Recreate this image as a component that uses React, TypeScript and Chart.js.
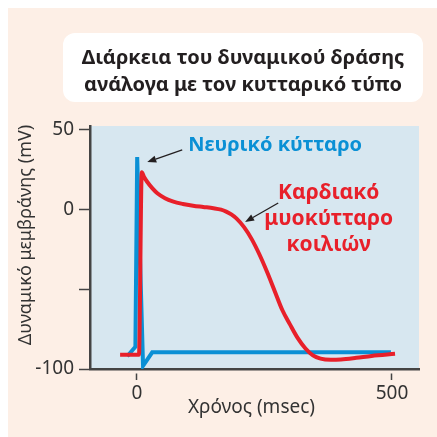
import React, { useEffect, useRef } from "react";
import { Chart, registerables } from "chart.js";

Chart.register(...registerables);

// ---- Text ----
const TITLE_LINES = ["Διάρκεια του δυναμικού δράσης", "ανάλογα με τον κυτταρικό τύπο"];
const X_TITLE = "Χρόνος (msec)";
const Y_TITLE = "Δυναμικό μεμβράνης (mV)";
const NEURON_LABEL = "Νευρικό κύτταρο";
const CARDIAC_LABEL = ["Καρδιακό", "μυοκύτταρο", "κοιλιών"];

// ---- Axes ----
const X_MIN = -92;
const X_MAX = 553;
const Y_MIN = -100;
const Y_MAX = 52.5;
const X_TICKS = [0, 500];
const X_TICK_LABELS = ["0", "500"];
const Y_TICKS = [-100, -50, 0, 50];
const Y_TICK_LABELS = ["-100", "", "0", "50"];

// ---- Series (time in msec, potential in mV) ----
const neuronTime = [-19, -3, 0.5, 12, 30, 498];
const neuronMV = [-92, -86, 33, -98, -89.5, -89.5];

const cardiacTime = [-33, 4, 9.5, 14, 20, 30, 40, 55, 70, 90, 110, 130, 150, 165, 175, 185, 195, 210, 225, 240, 255, 270, 285, 300, 315, 330, 345, 360, 380, 400, 430, 460, 506];
const cardiacMV = [-91, -91, 23.5, 20.5, 17.5, 13.5, 10.3, 7.2, 5.2, 3.6, 2.5, 1.7, 0.9, 0, -1.2, -3, -5.5, -11, -18.5, -28, -39, -51, -63, -72, -80.5, -87, -91.5, -93.5, -94.2, -94, -93, -91.8, -90.5];

// ---- Annotation anchors (data units) ----
const NEURON_TEXT_AT = [271, 36.8];
const NEURON_ARROW = [88.8, 37.5, 20.2, 29.9];
const CARDIAC_TEXT_X = 376;
const CARDIAC_TEXT_Y = [6.7, -9.6, -25.9];
const CARDIAC_ARROW = [277, 4.2, 212, -7.7];

const BLUE = "#0a90d5";
const RED = "#e8202a";
const DARK = "#231f20";
const FONT = "'Noto Sans', 'DejaVu Sans', sans-serif";

function drawArrow(ctx: CanvasRenderingContext2D, x1: number, y1: number, x2: number, y2: number) {
  const ang = Math.atan2(y2 - y1, x2 - x1);
  const hl = 9;
  const hw = 3.5;
  const bx = x2 - hl * Math.cos(ang);
  const by = y2 - hl * Math.sin(ang);
  ctx.beginPath();
  ctx.moveTo(x1, y1);
  ctx.lineTo(bx, by);
  ctx.stroke();
  ctx.beginPath();
  ctx.moveTo(x2, y2);
  ctx.lineTo(bx + hw * Math.sin(ang), by - hw * Math.cos(ang));
  ctx.lineTo(bx - hw * Math.sin(ang), by + hw * Math.cos(ang));
  ctx.closePath();
  ctx.fill();
}

const decor = {
  id: "decor",
  beforeDraw(chart: any) {
    const { ctx, chartArea: a } = chart;
    ctx.save();
    // title box
    ctx.fillStyle = "#ffffff";
    ctx.beginPath();
    ctx.roundRect(55, 25, 360, 69, 12);
    ctx.fill();
    ctx.fillStyle = DARK;
    ctx.font = `bold 20px ${FONT}`;
    ctx.textAlign = "center";
    ctx.textBaseline = "alphabetic";
    ctx.fillText(TITLE_LINES[0], 235, 56);
    ctx.fillText(TITLE_LINES[1], 235, 83);
    // plot background
    ctx.fillStyle = "#d7e7f0";
    ctx.fillRect(a.left, a.top, a.right - a.left, a.bottom - a.top);
    // axis titles
    ctx.fillStyle = "#333333";
    ctx.font = `19px ${FONT}`;
    ctx.fillText(X_TITLE, 243.5, 405);
    ctx.save();
    ctx.translate(23, 227);
    ctx.rotate(-Math.PI / 2);
    ctx.font = `18px ${FONT}`;
    ctx.fillText(Y_TITLE, 0, 0);
    ctx.restore();
    ctx.restore();
  },
  afterDraw(chart: any) {
    const { ctx } = chart;
    const xs = chart.scales.x;
    const ys = chart.scales.y;
    const px = (v: number) => xs.getPixelForValue(v);
    const py = (v: number) => ys.getPixelForValue(v);
    ctx.save();
    ctx.textAlign = "center";
    ctx.textBaseline = "alphabetic";
    ctx.fillStyle = BLUE;
    ctx.font = `bold 20px ${FONT}`;
    ctx.fillText(NEURON_LABEL, px(NEURON_TEXT_AT[0]), py(NEURON_TEXT_AT[1]));
    ctx.fillStyle = RED;
    ctx.font = `bold 21px ${FONT}`;
    CARDIAC_LABEL.forEach((t, i) => ctx.fillText(t, px(CARDIAC_TEXT_X), py(CARDIAC_TEXT_Y[i])));
    ctx.strokeStyle = DARK;
    ctx.fillStyle = DARK;
    ctx.lineWidth = 1.3;
    drawArrow(ctx, px(NEURON_ARROW[0]), py(NEURON_ARROW[1]), px(NEURON_ARROW[2]), py(NEURON_ARROW[3]));
    drawArrow(ctx, px(CARDIAC_ARROW[0]), py(CARDIAC_ARROW[1]), px(CARDIAC_ARROW[2]), py(CARDIAC_ARROW[3]));
    ctx.restore();
  },
};

export default function App() {
  const ref = useRef<HTMLCanvasElement>(null);
  useEffect(() => {
    const chart = new Chart(ref.current as HTMLCanvasElement, {
      type: "line",
      data: {
        datasets: [
          {
            label: "Καρδιακό μυοκύτταρο κοιλιών",
            data: cardiacTime.map((t, i) => ({ x: t, y: cardiacMV[i] })),
            borderColor: RED,
            borderWidth: 4,
            pointRadius: 0,
            cubicInterpolationMode: "monotone",
            fill: false,
          },
          {
            label: "Νευρικό κύτταρο",
            data: neuronTime.map((t, i) => ({ x: t, y: neuronMV[i] })),
            borderColor: BLUE,
            borderWidth: 4,
            pointRadius: 0,
            tension: 0,
            fill: false,
          },
        ],
      },
      options: {
        animation: false,
        responsive: false,
        devicePixelRatio: 1,
        layout: { padding: { top: 118, right: 18, left: 0, bottom: 0 } },
        plugins: { legend: { display: false }, title: { display: false }, tooltip: { enabled: false } },
        scales: {
          x: {
            type: "linear",
            min: X_MIN,
            max: X_MAX,
            afterBuildTicks: (s: any) => {
              s.ticks = X_TICKS.map((v) => ({ value: v }));
            },
            afterFit: (s: any) => {
              s.height = 68;
            },
            ticks: {
              autoSkip: false,
              maxRotation: 0,
              padding: 2,
              color: "#333333",
              font: { family: FONT, size: 19 },
              callback: (v: any) => X_TICK_LABELS[X_TICKS.indexOf(Number(v))],
            },
            grid: {
              drawOnChartArea: false,
              drawTicks: true,
              tickLength: 11,
              tickColor: "#444444",
              tickWidth: 1.5,
              tickBorderDash: [0, 3, 7, 60],
            },
            border: { color: "#444444", width: 2.5 },
          },
          y: {
            type: "linear",
            min: Y_MIN,
            max: Y_MAX,
            afterBuildTicks: (s: any) => {
              s.ticks = Y_TICKS.map((v) => ({ value: v }));
            },
            afterFit: (s: any) => {
              s.width = 82;
            },
            ticks: {
              autoSkip: false,
              padding: 5,
              color: "#333333",
              font: { family: FONT, size: 19 },
              callback: (v: any) => Y_TICK_LABELS[Y_TICKS.indexOf(Number(v))],
            },
            grid: {
              drawOnChartArea: false,
              drawTicks: true,
              tickLength: 11,
              tickColor: "#444444",
              tickWidth: 1.5,
            },
            border: { color: "#444444", width: 2.5 },
          },
        },
      },
      plugins: [decor],
    } as any);
    return () => chart.destroy();
  }, []);
  return (
    <div
      style={{
        position: "fixed",
        left: 8,
        top: 8,
        width: 429,
        height: 429,
        background: "#fdefe6",
      }}
    >
      <canvas ref={ref} width={429} height={429} style={{ display: "block", width: 429, height: 429 }} />
    </div>
  );
}
